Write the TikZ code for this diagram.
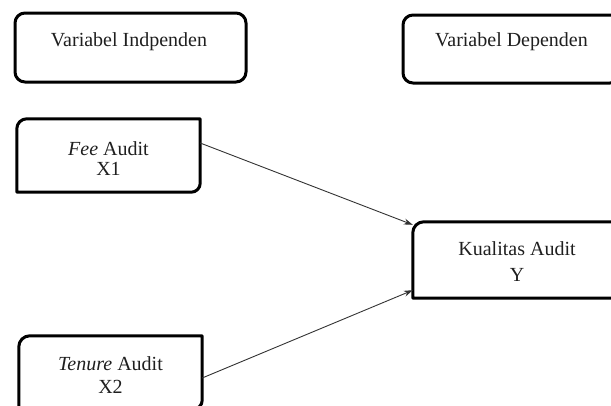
\documentclass[tikz,border=0pt]{standalone}
\usepackage{fontspec}
\setmainfont{Liberation Serif}
\usetikzlibrary{arrows.meta}
\begin{document}
\begin{tikzpicture}[x=1pt,y=1pt,
  frame/.style={draw=black,line width=3pt,line join=round},
  fbox/.style={rectangle,inner sep=0pt,draw=none},
  lbl/.style={anchor=base,align=center,inner sep=0pt,text=black!88,font=\fontsize{20}{20}\selectfont},
  arr/.style={draw=black!80,line width=0.9pt,-{Stealth[length=9pt,width=6pt]}}]
\useasboundingbox (0,0) rectangle (611,-405);
% header boxes
\node[fbox,frame,rounded corners=10pt,minimum width=231pt,minimum height=69pt] (indep) at (130.5,-47.5) {};
\node[lbl] (indeptxt) at (129,-46) {Variabel Indpenden};
\node[fbox,frame,rounded corners=10pt,minimum width=217pt,minimum height=68pt] (dep) at (511.5,-49) {};
\node[lbl] (deptxt) at (511.5,-46) {Variabel Dependen};
% variable boxes
\node[fbox,minimum width=183pt,minimum height=73pt] (fee) at (108.5,-155.5) {};
\node[fbox,minimum width=208pt,minimum height=76pt] (kual) at (517,-260) {};
\node[fbox,minimum width=183pt,minimum height=73pt] (ten) at (110.5,-372.5) {};
\draw[frame] (fee.south west) -- ([yshift=-10pt]fee.north west) arc[start angle=180,end angle=90,radius=10pt]
  -- (fee.north east) -- ([yshift=9pt]fee.south east) arc[start angle=0,end angle=-90,radius=9pt] -- cycle;
\draw[frame] (kual.south east) -- (kual.south west) -- ([yshift=-11pt]kual.north west) arc[start angle=180,end angle=90,radius=11pt]
  -- (kual.north east) -- cycle;
\draw[frame] (ten.south west) -- ([yshift=-11pt]ten.north west) arc[start angle=180,end angle=90,radius=11pt]
  -- (ten.north east) -- ([yshift=9pt]ten.south east) arc[start angle=0,end angle=-90,radius=9pt] -- cycle;
\node[lbl] (feetxt) at (108.5,-175) {\textit{Fee} Audit\\[0pt]X1};
\node[lbl] (kualtxt) at (517,-281.7) {Kualitas Audit\\[6.7pt]Y};
\node[lbl] (tentxt) at (110.5,-393.3) {\textit{Tenure} Audit\\[3.3pt]X2};
% arrows
\draw[arr] ([yshift=12.5pt]fee.east) -- ([yshift=-3pt]kual.north west);
\draw[arr] ([yshift=-5.5pt]ten.east) -- ([yshift=8pt]kual.south west);
\end{tikzpicture}
\end{document}
